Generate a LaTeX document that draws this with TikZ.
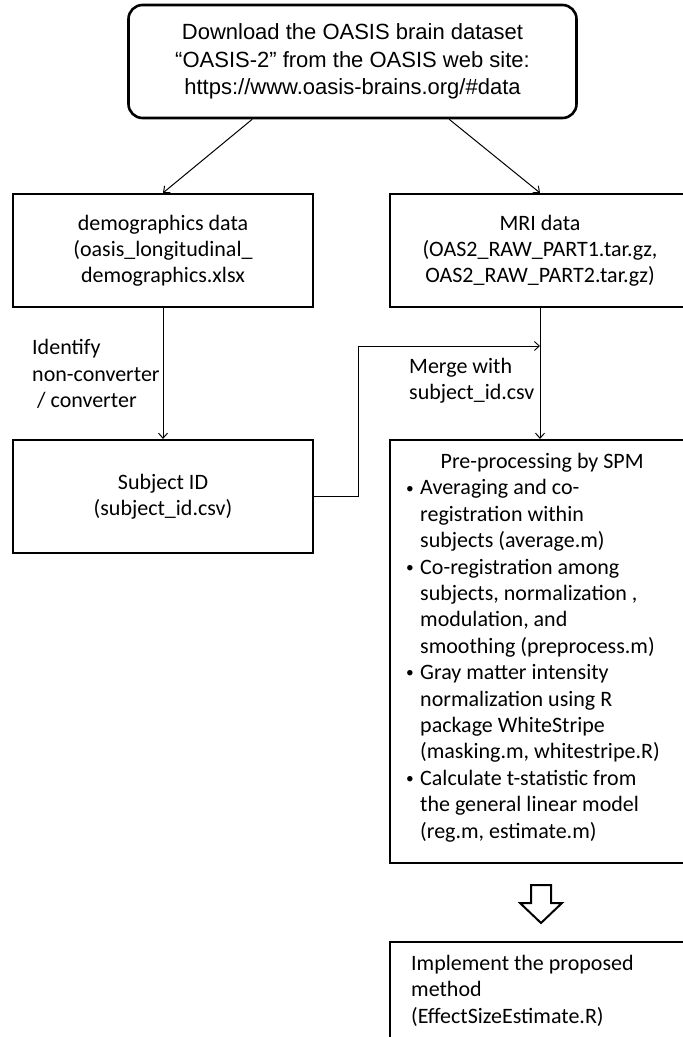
\documentclass[tikz,border=0pt]{standalone}
\usepackage{fontspec}
\usepackage{graphicx}
\setmainfont{Carlito}
\newfontfamily\arialf{Liberation Sans}
\usetikzlibrary{arrows.meta,calc}
\newcommand\mybul{\makebox[16pt][l]{\hspace{2pt}\raisebox{1.8pt}{\scalebox{0.7}{•}}}}
\begin{document}
\begin{tikzpicture}[x=1pt,y=-1pt,
  box/.style={draw,line width=2.2pt,minimum width=300pt,minimum height=113pt,inner sep=0pt,align=center,font=\fontsize{22}{26}\selectfont},
  arr/.style={line width=1pt,-{Straight Barb[length=5pt,width=9pt]}},
  lbl/.style={inner sep=0pt,align=left,anchor=north west,font=\fontsize{22}{26.4}\selectfont}]
\useasboundingbox (0,0) rectangle (683,1037);
\clip (0,0) rectangle (683,1037);
\node[box,rounded corners=14pt,line width=2.6pt,minimum width=448pt,font=\arialf\fontsize{22}{27.5}\selectfont] (top) at (352.5,61.5) {\raisebox{-3pt}{\parbox{440pt}{\centering Download the OASIS brain dataset\\“OASIS-2” from the OASIS web site:\\https://www.oasis-brains.org/\#data}}};
\node[box] (demo) at (163,250.5) {demographics data\\(oasis\_longitudinal\_\\demographics.xlsx};
\node[box] (mri) at (540,250.5) {MRI data\\(OAS2\_RAW\_PART1.tar.gz,\\OAS2\_RAW\_PART2.tar.gz)};
\node[box] (subj) at (163,496.5) {Subject ID\\(subject\_id.csv)};
\node[box,minimum height=423pt] (pre) at (540,651.5) {};
\node[lbl] (pretxt) at (404,453) {\makebox[276pt]{Pre-processing by SPM}\\
\mybul Averaging and co-\\
\hspace*{16pt}registration within\\
\hspace*{16pt}subjects (average.m)\\
\mybul Co-registration among\\
\hspace*{16pt}subjects, normalization ,\\
\hspace*{16pt}modulation, and\\
\hspace*{16pt}smoothing (preprocess.m)\\
\mybul Gray matter intensity\\
\hspace*{16pt}normalization using R\\
\hspace*{16pt}package WhiteStripe\\
\hspace*{16pt}(masking.m, whitestripe.R)\\
\mybul Calculate t-statistic from\\
\hspace*{16pt}the general linear model\\
\hspace*{16pt}(reg.m, estimate.m)};
\node[box,minimum height=130pt] (final) at (540,1007) {};
\node[lbl] (fintxt) at (411,955) {Implement the proposed\\method\\(EffectSizeEstimate.R)};
\node[lbl] (idlbl) at (32,339.5) {Identify\\non-converter\\\ / converter};
\node[lbl] (mglbl) at (409,358) {Merge with\\subject\_id.csv};
\draw[arr] ([xshift=125pt]top.south west) -- (demo.north);
\draw[arr] ([xshift=322pt]top.south west) -- (mri.north);
\draw[arr] (demo.south) -- (subj.north);
\draw[arr] (mri.south) -- (pre.north);
\coordinate (j) at (540,346);
\draw[arr,line width=0.9pt] (subj.east) -- ++(44,0) |- (j);
\coordinate (ha) at (541,885);
\draw[line width=2pt,line join=miter] ($(ha)+(-10,0)$) -- ($(ha)+(10,0)$) -- ($(ha)+(10,18)$) -- ($(ha)+(21,18)$) -- ($(ha)+(0,38)$) -- ($(ha)+(-21,18)$) -- ($(ha)+(-10,18)$) -- cycle;
\end{tikzpicture}
\end{document}
